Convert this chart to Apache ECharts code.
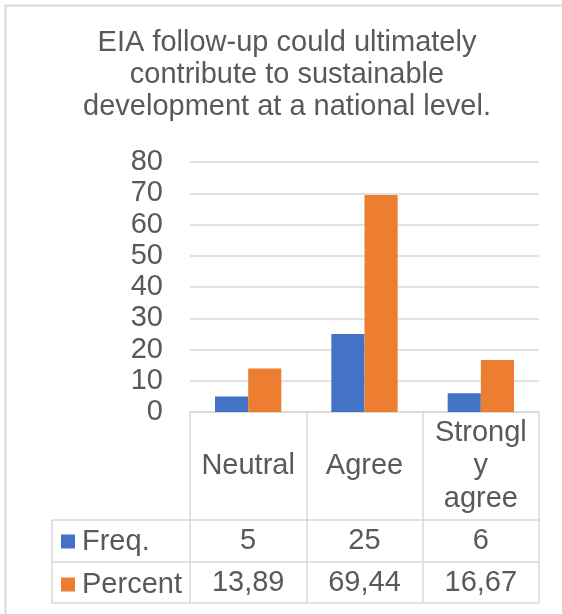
<!DOCTYPE html>
<html>
<head>
<meta charset="utf-8">
<title>EIA follow-up and sustainable development</title>
<script src="https://cdn.jsdelivr.net/npm/echarts@6/dist/echarts.min.js"></script>
<style>
  html, body { margin: 0; padding: 0; background: #ffffff; }
  #chart { width: 562px; height: 614px; }
</style>
</head>
<body>
<div id="chart"></div>
<script>
// Survey responses
const categories = ['Neutral', 'Agree', 'Strongly agree'];
const headerLabels = ['Neutral', 'Agree', 'Strongl\ny\nagree'];
const freqValues = [5, 25, 6];
const percentValues = [13.89, 69.44, 16.67];
const seriesNames = ['Freq.', 'Percent'];
const yTicks = { min: 0, max: 80, interval: 10 };
const titleLines = [
  'EIA follow-up could ultimately',
  'contribute to sustainable',
  'development at a national level.'
];

const FONT = '"Liberation Sans", Arial, sans-serif';
const FS = 29;
const TEXT = '#595959';
const LINE = '#d9d9d9';
const BLUE = '#4472C4';
const ORANGE = '#ED7D31';

// Plot area and data-table geometry
const plot = { left: 190, right: 539, top: 162, bottom: 412 };
const table = { left: 52, rowTop: 520, rowMid: 562, bottom: 603 };

const fmtComma = v => v.toFixed(2).replace('.', ',');

const chart = echarts.init(document.getElementById('chart'));

function tableAxis(data, margin) {
  return {
    type: 'category',
    gridIndex: 0,
    position: 'bottom',
    data: data,
    axisLine: { show: false },
    axisTick: { show: false },
    splitLine: { show: false },
    axisLabel: {
      interval: 0,
      margin: margin,
      verticalAlign: 'middle',
      fontSize: FS,
      fontFamily: FONT,
      color: TEXT
    }
  };
}

chart.setOption({
  animation: false,
  backgroundColor: '#ffffff',
  textStyle: { fontFamily: FONT },
  title: {
    text: titleLines.join('\n'),
    left: 287,
    top: 27,
    padding: 0,
    textAlign: 'center',
    textStyle: {
      fontSize: FS,
      fontWeight: 'normal',
      fontFamily: FONT,
      color: TEXT,
      lineHeight: 32
    }
  },
  legend: {
    orient: 'vertical',
    left: 61,
    top: 527,
    padding: 0,
    itemGap: 14,
    itemWidth: 14,
    itemHeight: 14,
    icon: 'rect',
    selectedMode: false,
    data: seriesNames,
    textStyle: {
      fontSize: FS,
      lineHeight: 28,
      fontFamily: FONT,
      color: TEXT,
      padding: [0, 0, 0, 2]
    }
  },
  grid: {
    left: plot.left,
    right: 562 - plot.right,
    top: plot.top,
    bottom: 614 - plot.bottom,
    containLabel: false
  },
  xAxis: [
    {
      type: 'category',
      data: categories,
      axisLine: { show: true, lineStyle: { color: LINE, width: 1.5 } },
      axisTick: {
        show: true,
        length: table.bottom - plot.bottom,
        lineStyle: { color: LINE, width: 1.5 }
      },
      axisLabel: {
        interval: 0,
        margin: (table.rowTop - plot.bottom) / 2,
        verticalAlign: 'middle',
        align: 'center',
        fontSize: FS,
        lineHeight: 33,
        fontFamily: FONT,
        color: TEXT,
        formatter: (v, i) => headerLabels[i]
      }
    },
    tableAxis(freqValues.map(String), (table.rowTop + table.rowMid) / 2 - plot.bottom),
    tableAxis(percentValues.map(fmtComma), (table.rowMid + table.bottom) / 2 - plot.bottom)
  ],
  yAxis: {
    type: 'value',
    min: yTicks.min,
    max: yTicks.max,
    interval: yTicks.interval,
    axisLine: { show: false },
    axisTick: { show: false },
    axisLabel: {
      margin: 27,
      fontSize: FS,
      fontFamily: FONT,
      color: TEXT
    },
    splitLine: { lineStyle: { color: LINE, width: 1.5 } }
  },
  series: [
    {
      name: seriesNames[0],
      type: 'bar',
      data: freqValues,
      itemStyle: { color: BLUE },
      barGap: '0%',
      barCategoryGap: '43%'
    },
    {
      name: seriesNames[1],
      type: 'bar',
      data: percentValues,
      itemStyle: { color: ORANGE },
      barGap: '0%',
      barCategoryGap: '43%'
    }
  ],
  graphic: [
    // chart-area frame
    {
      type: 'rect',
      shape: { x: 5.5, y: 5.5, width: 562, height: 620 },
      style: { fill: null, stroke: LINE, lineWidth: 2 },
      silent: true
    },
    // data-table rules under the legend column
    {
      type: 'line',
      shape: { x1: table.left, y1: table.rowTop, x2: plot.right, y2: table.rowTop },
      style: { stroke: LINE, lineWidth: 1.5 }, silent: true
    },
    {
      type: 'line',
      shape: { x1: table.left, y1: table.rowMid, x2: plot.right, y2: table.rowMid },
      style: { stroke: LINE, lineWidth: 1.5 }, silent: true
    },
    {
      type: 'line',
      shape: { x1: table.left, y1: table.bottom, x2: plot.right, y2: table.bottom },
      style: { stroke: LINE, lineWidth: 1.5 }, silent: true
    },
    {
      type: 'line',
      shape: { x1: table.left, y1: table.rowTop, x2: table.left, y2: table.bottom },
      style: { stroke: LINE, lineWidth: 1.5 }, silent: true
    }
  ]
});
</script>
</body>
</html>
